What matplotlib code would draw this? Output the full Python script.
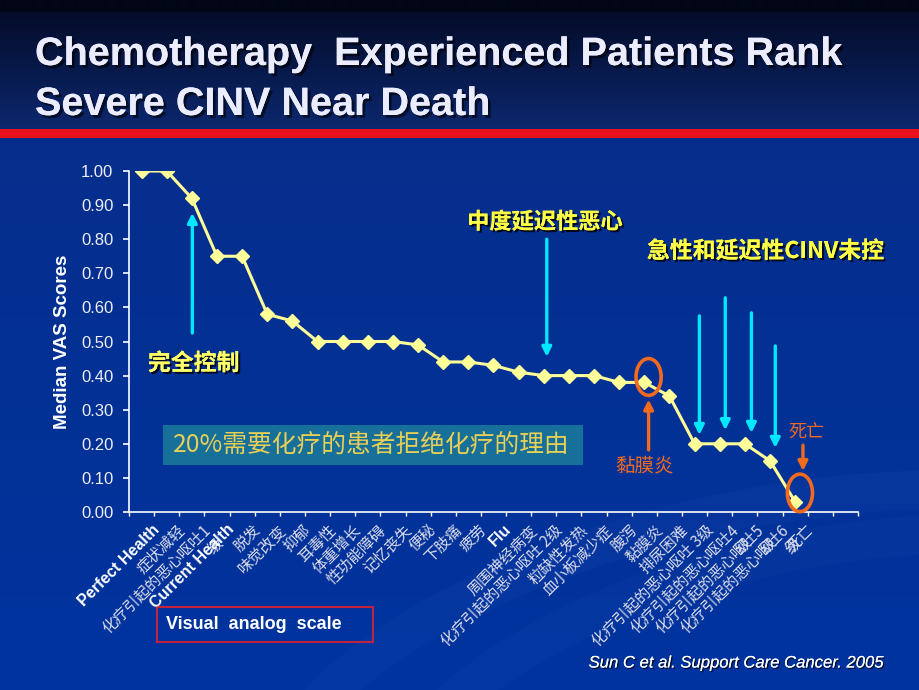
import numpy as np
import matplotlib
matplotlib.use("Agg")
import matplotlib.pyplot as plt
import matplotlib.patheffects as pe
from matplotlib.patches import Ellipse, Rectangle
from matplotlib.transforms import ScaledTranslation

# ---------------- data ----------------
categories = [
    "Perfect Health", "症状减轻", "化疗引起的恶心呕吐1\n级", "Current Health",
    "脱发", "味觉改变", "抑郁", "耳毒性", "体重增长", "性功能障碍", "记忆丧失",
    "便秘", "下肢痛", "疲劳", "Flu", "周围神经病变", "化疗引起的恶心呕吐 2级",
    "粒缺性发热", "血小板减少症", "腹泻", "黏膜炎", "排尿困难",
    "化疗引起的恶心呕吐 3级", "化疗引起的恶心呕吐4\n级", "化疗引起的恶心呕吐5\n级",
    "化疗引起的恶心呕吐6\n级", "死亡",
]
english_labels = ["Perfect Health", "Current Health", "Flu"]
vas_scores = [1.00, 1.00, 0.92, 0.75, 0.75, 0.58, 0.56, 0.50, 0.50, 0.50, 0.50,
              0.49, 0.44, 0.44, 0.43, 0.41, 0.40, 0.40, 0.40, 0.38, 0.38, 0.34,
              0.20, 0.20, 0.20, 0.15, 0.03]
y_ticks = [0.0, 0.1, 0.2, 0.3, 0.4, 0.5, 0.6, 0.7, 0.8, 0.9, 1.0]

CJK = ["Noto Sans CJK SC", "DejaVu Sans"]
SANS = ["Liberation Sans", "DejaVu Sans"]

W, H = 920, 690
fig = plt.figure(figsize=(W / 100, H / 100), dpi=100)

# ---------------- background ----------------
bg = fig.add_axes([0, 0, 1, 1])
bg.set_xlim(0, W)
bg.set_ylim(H, 0)
bg.axis("off")
img = np.zeros((690, 1, 3))
top_c = np.array([4, 12, 40]) / 255
mid_c = np.array([12, 40, 112]) / 255
low_c1 = np.array([6, 46, 140]) / 255
low_c2 = np.array([0, 52, 160]) / 255
for i in range(690):
    if i < 12:
        img[i, 0] = np.array([2, 6, 22]) / 255
    elif i < 130:
        t = (i - 12) / 118
        img[i, 0] = top_c * (1 - t) + mid_c * t
    else:
        t = (i - 130) / 560
        img[i, 0] = low_c1 * (1 - t) + low_c2 * t
bg.imshow(img, extent=[0, W, H, 0], aspect="auto", interpolation="bilinear")
# faint swoosh
for (cx, cy, w, h, a) in [(760, 720, 1000, 420, 0.05), (820, 760, 900, 420, 0.04)]:
    bg.add_patch(Ellipse((cx, cy), w, h, angle=-12, fill=False,
                         lw=28, ec=(0.35, 0.5, 0.9, a)))
# red band
bg.add_patch(Rectangle((0, 129), W, 9, color="#e8101c", lw=0))

# title
shadow = [pe.withSimplePatchShadow(offset=(2, -2), shadow_rgbFace="black", alpha=0.6), pe.Normal()]
bg.text(35, 65, "Chemotherapy  Experienced Patients Rank", fontsize=28.5,
        fontweight="bold", family=SANS, color="#ececff", va="baseline",
        path_effects=shadow)
bg.text(35, 115, "Severe CINV Near Death", fontsize=28.5,
        fontweight="bold", family=SANS, color="#ececff", va="baseline",
        path_effects=shadow)

# ---------------- main chart ----------------
left, right, top, bottom = 129, 858, 171, 512
ax = fig.add_axes([left / W, 1 - bottom / H, (right - left) / W, (bottom - top) / H])
ax.patch.set_alpha(0)
x = np.arange(len(vas_scores))
ax.plot(x, vas_scores, color="#ffff99", lw=2.2, marker="D", markersize=7.5,
        markerfacecolor="#ffff99", markeredgecolor="#ffff99", zorder=5)
ax.set_xlim(-0.5, 28.5)
ax.set_ylim(0, 1.0)
for s in ["top", "right"]:
    ax.spines[s].set_visible(False)
for s in ["left", "bottom"]:
    ax.spines[s].set_color("white")
    ax.spines[s].set_linewidth(1.2)

ax.set_yticks(y_ticks)
ax.set_yticklabels([f"{v:.2f}" for v in y_ticks], family=SANS, fontsize=12, color="#eeeef6")
ax.tick_params(axis="y", colors="white", length=4.3, width=1.2, pad=7, labelcolor="#eeeef6")

ax.set_xticks(np.arange(-0.5, 29, 1.0), minor=True)
ax.tick_params(axis="x", which="minor", length=3, width=1, colors="white")
ax.set_xticks(x)
ax.set_xticklabels(categories)
ax.tick_params(axis="x", which="major", length=0, pad=7)
off = ScaledTranslation(10 / 100, 0, fig.dpi_scale_trans)
for lbl in ax.get_xticklabels():
    lbl.set_rotation(45)
    lbl.set_ha("right")
    lbl.set_va("top")
    lbl.set_rotation_mode("anchor")
    lbl.set_multialignment("right")
    lbl.set_transform(lbl.get_transform() + off)
    if lbl.get_text() in english_labels:
        lbl.set_family(SANS)
        lbl.set_fontweight("bold")
        lbl.set_fontsize(11.5)
        lbl.set_color("white")
    else:
        lbl.set_family(CJK)
        lbl.set_fontsize(11)
        lbl.set_color("#dcdcea")
        lbl.set_linespacing(1.1)

ax.set_ylabel("Median VAS Scores", family=SANS, fontweight="bold", fontsize=13.5,
              color="white", labelpad=7)

# ---------------- annotations ----------------
cyan = "#00e8ff"
def arrow(ax, x0, y0, x1, y1, color, lw=2.4, ms=14):
    ax.annotate("", xy=(x1, y1), xytext=(x0, y0),
                arrowprops=dict(arrowstyle="-|>", color=color, lw=lw,
                                mutation_scale=ms, shrinkA=0, shrinkB=0),
                annotation_clip=False, zorder=6)

arrow(ax, 2.02, 0.525, 2.02, 0.877, cyan)
arrow(ax, 16.12, 0.80, 16.12, 0.455, cyan)
arrow(ax, 22.19, 0.575, 22.19, 0.226, cyan)
arrow(ax, 23.22, 0.628, 23.22, 0.240, cyan)
arrow(ax, 24.26, 0.584, 24.26, 0.232, cyan)
arrow(ax, 25.21, 0.487, 25.21, 0.188, cyan)

orange = "#f26a1e"
ax.add_patch(Ellipse((20.17, 0.396), 1.0, 0.108, fill=False, ec=orange, lw=2.6, zorder=7))
ax.add_patch(Ellipse((26.19, 0.056), 1.0, 0.11, fill=False, ec=orange, lw=2.6, zorder=7,
                     clip_on=False))
arrow(ax, 20.17, 0.182, 20.17, 0.33, orange)
arrow(ax, 26.31, 0.196, 26.31, 0.12, orange)

ax.text(20.0, 0.136, "黏膜炎", family=CJK, fontsize=14, color=orange,
        ha="center", va="center")
ax.text(26.45, 0.232, "死亡", family=CJK, fontsize=13, color=orange,
        ha="center", va="center")

tshadow = [pe.withSimplePatchShadow(offset=(1.5, -1.5), shadow_rgbFace="black", alpha=0.8), pe.Normal()]
ax.text(2.07, 0.435, "完全控制", family=CJK, fontsize=16.5, fontweight="bold",
        color="#ffff66", ha="center", va="center", path_effects=tshadow)
ax.text(16.05, 0.85, "中度延迟性恶心", family=CJK, fontsize=16, fontweight="bold",
        color="#ffff44", ha="center", va="center", path_effects=tshadow)
ax.text(20.1, 0.764, "急性和延迟性CINV未控", family=CJK, fontsize=16.5, fontweight="bold",
        color="#ffff44", ha="left", va="center", path_effects=tshadow)

# teal box
bg.add_patch(Rectangle((163, 425), 420, 40, color="#17709a", lw=0, zorder=3))
bg.text(173, 445, "20%需要化疗的患者拒绝化疗的理由", family=CJK, fontsize=17.8,
        color="#e8cf55", ha="left", va="center", zorder=4)

# Visual analog scale box
bg.add_patch(Rectangle((157, 607), 216, 35, fill=False, ec="#c0243c", lw=1.5))
bg.text(166, 624.5, "Visual  analog  scale", family=SANS, fontsize=13,
        fontweight="bold", color="white", ha="left", va="center")

# citation
bg.text(883, 663, "Sun C et al. Support Care Cancer. 2005", family=SANS, fontsize=12,
        style="italic", color="white", ha="right", va="center",
        path_effects=[pe.withSimplePatchShadow(offset=(1, -1), shadow_rgbFace="black", alpha=0.7), pe.Normal()])

fig.savefig("out.png", dpi=100)
